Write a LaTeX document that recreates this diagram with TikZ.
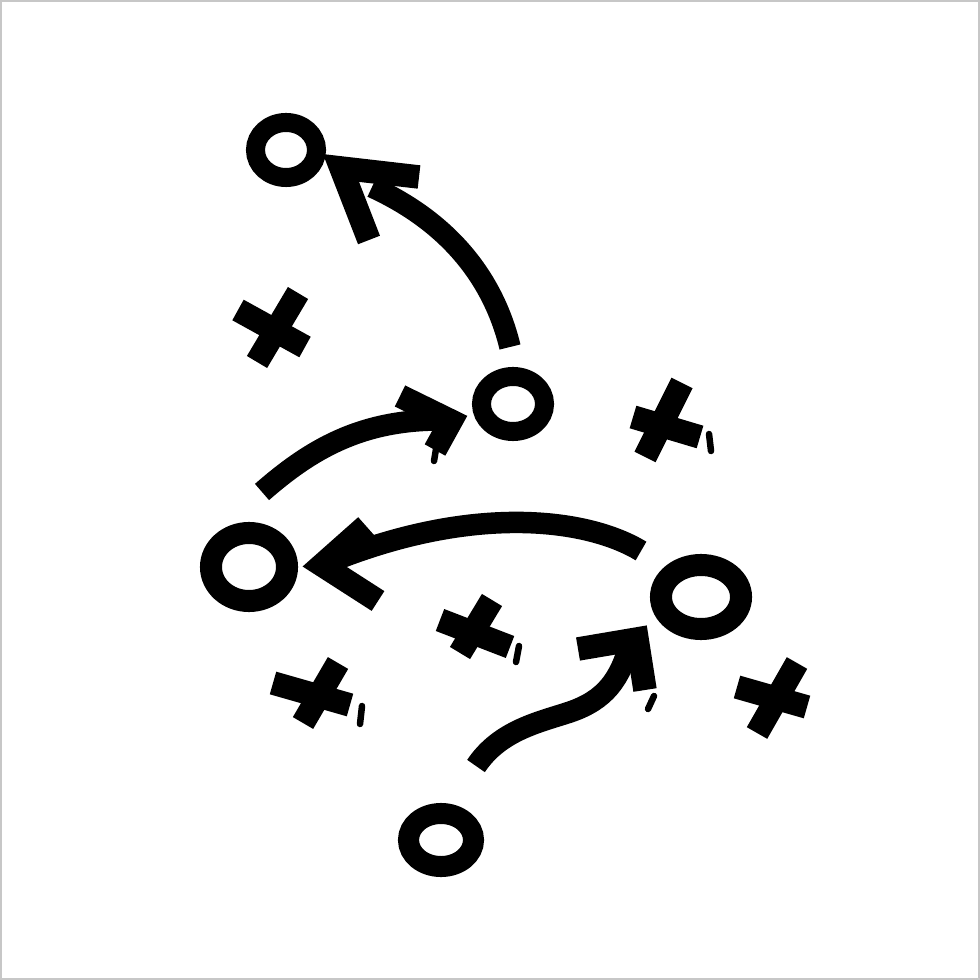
\documentclass[tikz,border=0pt]{standalone}
\usetikzlibrary{shapes.geometric}
\begin{document}
\begin{tikzpicture}[x=0.01cm,y=-0.01cm,
  mk/.style={line width=0.235cm, line cap=butt, line join=miter},
  shaft/.style={line width=0.215cm, line cap=butt},
  tickmark/.style={line width=0.065cm, line cap=round},
  ocirc/.style={draw, ellipse, inner sep=0pt, outer sep=0pt}]
\useasboundingbox (0,0) rectangle (980,980);
\fill[white] (0,0) rectangle (980,980);
\draw[black!22, line width=0.6pt] (1,1) rectangle (979,979);

% circles (O)
\node[ocirc, line width=0.19cm, minimum width=0.61cm, minimum height=0.55cm] (o1) at (286,150) {};
\node[ocirc, line width=0.19cm, minimum width=0.63cm, minimum height=0.55cm] (o2) at (513,404) {};
\node[ocirc, line width=0.22cm, minimum width=0.76cm, minimum height=0.68cm] (o3) at (249,567) {};
\node[ocirc, line width=0.22cm, minimum width=0.80cm, minimum height=0.64cm] (o4) at (701,597) {};
\node[ocirc, line width=0.21cm, minimum width=0.65cm, minimum height=0.53cm] (o5) at (441,840) {};

% crosses (X)
\coordinate (x1a) at (238,310); \coordinate (x1b) at (305,347);
\coordinate (x1c) at (298,293); \coordinate (x1d) at (257,362);
\draw[mk] (x1a) -- (x1b); \draw[mk] (x1c) -- (x1d);

\coordinate (x2a) at (633,417); \coordinate (x2b) at (700,437);
\coordinate (x2c) at (682,383); \coordinate (x2d) at (645,457);
\draw[mk] (x2a) -- (x2b); \draw[mk] (x2c) -- (x2d);
\coordinate (t2a) at (709,434); \coordinate (t2b) at (711,451);
\draw[tickmark] (t2a) -- (t2b);

\coordinate (x3a) at (440,620); \coordinate (x3b) at (510,647);
\coordinate (x3c) at (492,600); \coordinate (x3d) at (460,653);
\draw[mk] (x3a) -- (x3b); \draw[mk] (x3c) -- (x3d);
\coordinate (t3a) at (519,646); \coordinate (t3b) at (516,662);
\draw[tickmark] (t3a) -- (t3b);

\coordinate (x4a) at (273,683); \coordinate (x4b) at (350,705);
\coordinate (x4c) at (338,663); \coordinate (x4d) at (303,723);
\draw[mk] (x4a) -- (x4b); \draw[mk] (x4c) -- (x4d);
\coordinate (t4a) at (362,706); \coordinate (t4b) at (360,724);
\draw[tickmark] (t4a) -- (t4b);

\coordinate (x5a) at (737,687); \coordinate (x5b) at (807,707);
\coordinate (x5c) at (797,663); \coordinate (x5d) at (757,733);
\draw[mk] (x5a) -- (x5b); \draw[mk] (x5c) -- (x5d);

% arrow 1: from o2 up-left toward o1
\coordinate (a1s) at (510,347);
\coordinate (a1e) at (372,187);
\draw[shaft] (a1s) .. controls (495,285) and (455,225) .. (a1e);
\coordinate (a1tip) at (341,168);
\coordinate (a1l) at (419,177);
\coordinate (a1r) at (369,240);
\draw[mk] (a1l) -- (a1tip) -- (a1r);

% arrow 2: from near o3 up-right toward o2
\coordinate (a2s) at (262,492);
\coordinate (a2e) at (440,420);
\draw[shaft] (a2s) .. controls (310,450) and (360,420) .. (a2e);
\coordinate (a2tip) at (451,421);
\coordinate (a2l) at (400,396);
\coordinate (a2r) at (435,450);
\draw[mk] (a2l) -- (a2tip) -- (a2r);
\coordinate (t2c) at (436,449); \coordinate (t2d) at (434,461);
\draw[tickmark] (t2c) -- (t2d);

% arrow 3: from near o4 left toward o3
\coordinate (a3s) at (641,551);
\coordinate (a3e) at (335,560);
\draw[shaft] (a3s) .. controls (590,520) and (480,503) .. (a3e);
\coordinate (a3tip) at (322,565);
\coordinate (a3l) at (366,526);
\coordinate (a3r) at (378,601);
\draw[mk] (a3l) -- (a3tip) -- (a3r);

% arrow 4: from near o5 up-right toward o4
\coordinate (a4s) at (476,766);
\coordinate (a4m) at (570,712);
\coordinate (a4e) at (630,643);
\draw[shaft] (a4s) .. controls (500,730) and (540,722) .. (a4m)
  .. controls (605,700) and (620,680) .. (a4e);
\coordinate (a4tip) at (637,639);
\coordinate (a4l) at (578,649);
\coordinate (a4r) at (645,690);
\draw[mk] (a4l) -- (a4tip) -- (a4r);
\coordinate (t4c) at (654,696); \coordinate (t4d) at (648,709);
\draw[tickmark] (t4c) -- (t4d);
\end{tikzpicture}
\end{document}
